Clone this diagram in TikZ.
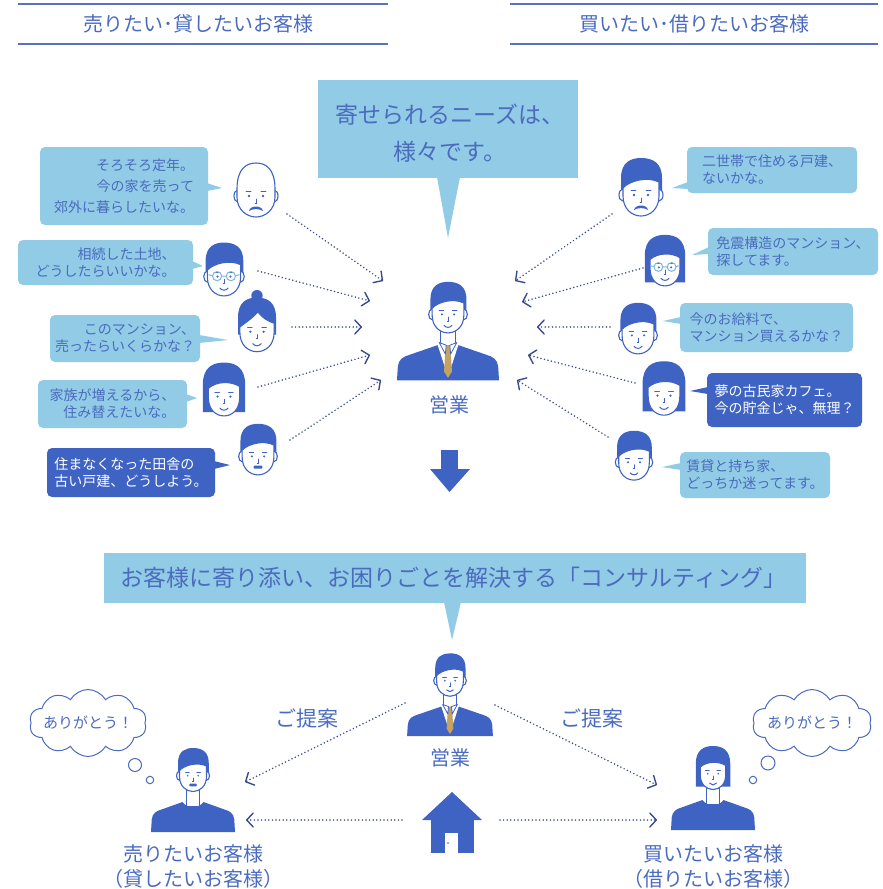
\documentclass[tikz,border=0pt]{standalone}
\usepackage{fontspec}
\setmainfont{Noto Sans CJK JP}
\usetikzlibrary{arrows.meta,shapes.symbols}

\definecolor{paleblue}{HTML}{92CBE5}
\definecolor{deepblue}{HTML}{3F63C3}
\definecolor{inkblue}{HTML}{4A6BBE}
\definecolor{dotblue}{HTML}{3B4C8C}
\definecolor{rulecol}{HTML}{5A71BD}
\definecolor{tiegold}{HTML}{C4A262}
\definecolor{glasscol}{HTML}{7FB6DA}

% --- face parts (head centre at origin, y grows downwards) ---
\newcommand\FaceEars{\path[facestroke] (-18,5) ellipse [x radius=4pt, y radius=6pt] (18,5) ellipse [x radius=4pt, y radius=6pt];}
\newcommand\HairShort{\fill[deepblue] (-20,7) -- (-20,-12) .. controls (-20,-28) and (-10,-32) .. (0,-32) .. controls (12,-32) and (21,-27) .. (21,-12) -- (21,7) -- cycle;}
\newcommand\FaceShort{\path[facestroke] (-18,-2) .. controls (-12,-9) and (6,-14) .. (18,-8) -- (18,6) .. controls (18,19) and (9,26) .. (0,26) .. controls (-9,26) and (-18,19) .. (-18,6) -- cycle;}
\newcommand\FaceBald{\path[facestroke] (-19,-2) .. controls (-19,-22) and (-10,-28) .. (0,-28) .. controls (10,-28) and (19,-22) .. (19,-2) -- (19,6) .. controls (19,19) and (9,26) .. (0,26) .. controls (-9,26) and (-19,19) .. (-19,6) -- cycle;}
\newcommand\HairBun{\fill[deepblue] (0,-33) circle [radius=6pt]; \fill[deepblue] (-20,8) -- (-20,-10) .. controls (-20,-27) and (-10,-31) .. (0,-31) .. controls (10,-31) and (20,-27) .. (20,-10) -- (20,8) -- cycle;}
\newcommand\FaceBun{\path[facestroke] (-18,0) .. controls (-13,-4) and (-5,-9) .. (1,-16) .. controls (6,-9) and (12,-6) .. (18,-4) -- (18,6) .. controls (18,19) and (9,26) .. (0,26) .. controls (-9,26) and (-18,19) .. (-18,6) -- cycle;}
\newcommand\HairBob{\fill[deepblue] (-23,22) -- (-23,-8) .. controls (-23,-27) and (-12,-32) .. (0,-32) .. controls (12,-32) and (23,-27) .. (23,-8) -- (23,22) -- cycle;}
\newcommand\FaceBob{\path[facestroke] (-17,-4) .. controls (-8,-12) and (8,-12) .. (17,-6) -- (17,6) .. controls (17,19) and (9,26) .. (0,26) .. controls (-9,26) and (-17,19) .. (-17,6) -- cycle;}
\newcommand\FaceMarks{\fill[deepblue] (-7,5) circle [radius=1.3pt] (7,5) circle [radius=1.3pt]; \draw[deepblue, line width=0.9pt, line cap=round] (-10,0) -- (-5,0) (5,0) -- (10,0) (0.5,8) -- (0.5,12.5) -- (-0.8,12.5);}
\newcommand\FaceSmile{\draw[deepblue, line width=1pt, line cap=round] (-4.5,17.5) .. controls (-2,20.5) and (2,20.5) .. (4.5,17.5);}
\newcommand\MustArch{\fill[deepblue] (-7,20) .. controls (-6,14) and (6,14) .. (7,20) .. controls (4,17.5) and (-4,17.5) .. cycle;}
\newcommand\MustBlock{\fill[deepblue, rounded corners=1pt] (-5,15.5) rectangle (5,19);}
\newcommand\FaceGlasses{\draw[glasscol, line width=1pt] (-7.5,4.5) circle [radius=5pt] (7.5,4.5) circle [radius=5pt] (-2.5,4.5) -- (2.5,4.5) (-12.5,4) -- (-17,3) (12.5,4) -- (17,3);}

% --- bodies ---
\newcommand\SuitBody{%
  \path[fill=white, draw=deepblue, line width=1.1pt] (-9,16) rectangle (9,46);
  \fill[deepblue] (-58,80) -- (-57,64) .. controls (-56,56) and (-51,53) .. (-44,51) -- (-12,40) -- (12,40) -- (44,51) .. controls (51,53) and (56,56) .. (57,64) -- (58,80) -- cycle;
  \fill[white] (-12,39) -- (12,39) -- (0,76) -- cycle;
  \fill[tiegold] (-3,45) -- (3,45) -- (4.5,70) -- (0,77) -- (-4.5,70) -- cycle;
  \fill[tiegold] (-3.5,40) -- (3.5,40) -- (2.5,46) -- (-2.5,46) -- cycle;
  \path[fill=white, draw=deepblue, line width=0.8pt, line join=round] (-10,37) -- (-3,50) -- (-2,40) -- cycle (10,37) -- (3,50) -- (2,40) -- cycle;}
\newcommand\ShirtBody{%
  \path[fill=white, draw=deepblue, line width=1.1pt] (-9,16) rectangle (9,46);
  \fill[deepblue] (-56,80) -- (-55,63) .. controls (-54,55) and (-49,52) .. (-42,50) -- (-14,40) .. controls (-8,49) and (8,49) .. (14,40) -- (42,50) .. controls (49,52) and (54,55) .. (55,63) -- (56,80) -- cycle;}

\tikzset{
  facestroke/.style={draw=deepblue, line width=1.1pt, fill=white},
  baldman/.pic={\FaceEars\FaceBald\FaceMarks\MustArch},
  glassman/.pic={\HairShort\FaceEars\FaceShort\FaceMarks\FaceGlasses\FaceSmile},
  bunwoman/.pic={\HairBun\FaceBun\FaceMarks\FaceSmile},
  bobwoman/.pic={\HairBob\FaceBob\FaceMarks\FaceSmile},
  bobglasses/.pic={\HairBob\FaceBob\FaceMarks\FaceGlasses\FaceSmile},
  blockman/.pic={\HairShort\FaceEars\FaceShort\FaceMarks\MustBlock},
  archman/.pic={\HairShort\FaceEars\FaceShort\FaceMarks\MustArch},
  smileman/.pic={\HairShort\FaceEars\FaceShort\FaceMarks\FaceSmile},
  suitbody/.pic={\SuitBody},
  shirtbody/.pic={\ShirtBody},
  lbub/.style={fill=paleblue, rounded corners=5pt, text=inkblue, font=\fontsize{14}{17}\selectfont, inner sep=0pt},
  dbub/.style={lbub, fill=deepblue, text=white},
  flow/.style={dotblue, line width=1.7pt, dash pattern=on 0pt off 3.6pt, line cap=round,
    -{Straight Barb[length=6.5pt, width=14pt, line width=1.4pt, round]}},
  label/.style={text=inkblue, font=\fontsize{20}{25}\selectfont, inner sep=0pt},
  thought/.style={circle, draw=inkblue, line width=1pt, fill=white, inner sep=0pt},
}

\begin{document}
\begin{tikzpicture}[x=1pt, y=-1pt]
\useasboundingbox (0,0) rectangle (883,889);

% ---------- headers ----------
\draw[rulecol, line width=2pt] (18,4) -- (388,4) (18,44) -- (388,44) (510,4) -- (878,4) (510,44) -- (878,44);
\node[label] (hdrL) at (198,24) {売りたい･貸したいお客様};
\node[label] (hdrR) at (694,24) {買いたい･借りたいお客様};

% ---------- central speech bubble ----------
\fill[paleblue] (437,177) -- (448,238) -- (460,177) -- cycle;
\node[fill=paleblue, minimum width=260pt, minimum height=98pt, inner sep=0pt] (needs) at (448,129) {};
\node[text=inkblue, font=\fontsize{23}{37}\selectfont, align=center, inner sep=0pt] (needstext) at (450,133) {寄せられるニーズは、\\様々です。};

% ---------- left customers ----------
\fill[paleblue] (207,183) -- (222,188) -- (207,191) -- cycle;
\node[lbub, align=right, minimum width=168pt, minimum height=78pt, font=\fontsize{14}{21}\selectfont] (b1) at (124,186) {そろそろ定年。\\今の家を売って\\郊外に暮らしたいな。};
\fill[paleblue] (192,261) -- (203,266) -- (192,269) -- cycle;
\node[lbub, align=right, minimum width=175pt, minimum height=45pt] (b2) at (105.5,262.5) {相続した土地、\\どうしたらいいかな。};
\fill[paleblue] (199,335) -- (228,340) -- (199,343) -- cycle;
\node[lbub, align=right, minimum width=150pt, minimum height=47pt] (b3) at (125,338.5) {このマンション、\\売ったらいくらかな？};
\fill[paleblue] (186,394) -- (197,398) -- (186,402) -- cycle;
\node[lbub, align=right, minimum width=149pt, minimum height=48pt] (b4) at (112.5,404) {家族が増えるから、\\住み替えたいな。};
\fill[deepblue] (214,461) -- (230,465) -- (214,469) -- cycle;
\node[dbub, align=left, minimum width=168pt, minimum height=49pt] (b5) at (131,472.5) {住まなくなった田舎の\\古い戸建、どうしよう。};

\pic at (256,191) {baldman};
\pic[scale=0.92] at (224,272) {glassman};
\pic[scale=0.95] at (257,327) {bunwoman};
\pic[scale=0.92] at (224,392) {bobwoman};
\pic[scale=0.88] at (258,452) {blockman};

% ---------- right customers ----------
\fill[paleblue] (688,182) -- (672,188) -- (688,189) -- cycle;
\node[lbub, align=left, minimum width=170pt, minimum height=46pt] (r1) at (772,170) {二世帯で住める戸建、\\ないかな。};
\fill[paleblue] (709,247) -- (692,255) -- (709,254) -- cycle;
\node[lbub, align=left, minimum width=170pt, minimum height=47pt] (r2) at (793,251.5) {免震構造のマンション、\\探してます。};
\fill[paleblue] (681,317) -- (663,321) -- (681,324) -- cycle;
\node[lbub, align=left, minimum width=173pt, minimum height=49pt] (r3) at (766.5,327.5) {今のお給料で、\\マンション買えるかな？};
\fill[deepblue] (708,387) -- (690,391) -- (708,394) -- cycle;
\node[dbub, align=left, minimum width=155pt, minimum height=54pt] (r4) at (784.5,400) {夢の古民家カフェ。\\今の貯金じゃ、無理？};
\fill[paleblue] (681,463) -- (662,467) -- (681,470) -- cycle;
\node[lbub, align=left, minimum width=150pt, minimum height=46pt] (r5) at (755,475) {賃貸と持ち家、\\どっちか迷ってます。};

\pic at (641,190) {archman};
\pic[scale=0.88] at (665,263) {bobglasses};
\pic[scale=0.88] at (638,331) {smileman};
\pic[scale=0.93] at (664,391) {bobwoman};
\pic[scale=0.85] at (634,458) {smileman};

% ---------- sales person (top) ----------
\pic[scale=0.88] at (448,310) {suitbody};
\pic[scale=0.88] at (448,310) {smileman};
\node[label] (salesTop) at (449,405) {営業};

% needs flowing towards the sales person
\coordinate (l1s) at (287,214); \coordinate (l1e) at (383,281);
\coordinate (l2s) at (258,271); \coordinate (l2e) at (370,301);
\coordinate (l3s) at (292,327); \coordinate (l3e) at (362,327);
\coordinate (l4s) at (258,387); \coordinate (l4e) at (370,355);
\coordinate (l5s) at (290,440); \coordinate (l5e) at (381,380);
\coordinate (r1s) at (612,214); \coordinate (r1e) at (515,281);
\coordinate (r2s) at (643,268); \coordinate (r2e) at (522,302);
\coordinate (r3s) at (610,327); \coordinate (r3e) at (537,327);
\coordinate (r4s) at (635,383); \coordinate (r4e) at (528,355);
\coordinate (r5s) at (608,437); \coordinate (r5e) at (517,380);
\foreach \a in {l1,l2,l3,l4,l5,r1,r2,r3,r4,r5} \draw[flow] (\a s) -- (\a e);

% big down arrow
\fill[deepblue] (441,450) rectangle (458,470);
\fill[deepblue] (430,469) -- (470,469) -- (449.5,492) -- cycle;

% ---------- consulting banner ----------
\fill[paleblue] (444,602) -- (452,640) -- (461,602) -- cycle;
\node[fill=paleblue, minimum width=702pt, minimum height=50pt, inner sep=0pt] (banner) at (455,578) {};
\node[text=inkblue, font=\fontsize{23}{28}\selectfont, inner sep=0pt] (bannertext) at (453.5,578) {お客様に寄り添い、お困りごとを解決する「コンサルティング」};

% ---------- sales person (bottom) ----------
\pic[scale=0.74] at (450,677) {suitbody};
\pic[scale=0.74] at (450,677) {smileman};
\node[label] (salesBot) at (450,758) {営業};
\node[label, font=\fontsize{21}{25}\selectfont] (propL) at (307,718) {ご提案};
\node[label, font=\fontsize{21}{25}\selectfont] (propR) at (592,718) {ご提案};

% house
\fill[deepblue] (422,820) -- (452,792) -- (482,820) -- cycle;
\fill[deepblue] (431,819) rectangle (474,853);
\fill[white] (445,833) rectangle (458,853);
\fill[deepblue] (448,843) circle [radius=0.9pt];

% seller
\pic[scale=0.75] at (193,772) {shirtbody};
\pic[scale=0.75] at (193,772) {blockman};
\node[label, align=center] (seller) at (193,867) {売りたいお客様\\（貸したいお客様）};
\node[cloud, cloud puffs=10, cloud puff arc=120, aspect=1.75, draw=inkblue, line width=1pt, fill=white, minimum width=117pt, minimum height=67pt, inner sep=0pt] (cloudL) at (88,723) {};
\node[text=inkblue, font=\fontsize{15}{18}\selectfont] (thanksL) at (88,723) {ありがとう！};
\node[thought, minimum size=13pt] (puffL1) at (135,765) {};
\node[thought, minimum size=7.5pt] (puffL2) at (150,780) {};

% buyer
\pic[scale=0.75] at (713,770) {shirtbody};
\pic[scale=0.75] at (713,770) {bobwoman};
\node[label, align=center] (buyer) at (713,867) {買いたいお客様\\（借りたいお客様）};
\node[cloud, cloud puffs=10, cloud puff arc=120, aspect=1.75, draw=inkblue, line width=1pt, fill=white, minimum width=119pt, minimum height=67pt, inner sep=0pt] (cloudR) at (812,723) {};
\node[text=inkblue, font=\fontsize{15}{18}\selectfont] (thanksR) at (812,723) {ありがとう！};
\node[thought, minimum size=14pt] (puffR1) at (768,763) {};
\node[thought, minimum size=7.5pt] (puffR2) at (753,780) {};

% proposals and the home flowing to each customer
\coordinate (pL1s) at (405,703); \coordinate (pL1e) at (245,782);
\coordinate (pL2s) at (402,820); \coordinate (pL2e) at (246,820);
\coordinate (pR1s) at (495,705); \coordinate (pR1e) at (657,785);
\coordinate (pR2s) at (500,820); \coordinate (pR2e) at (657,820);
\foreach \a in {pL1,pL2,pR1,pR2} \draw[flow] (\a s) -- (\a e);
\end{tikzpicture}
\end{document}
